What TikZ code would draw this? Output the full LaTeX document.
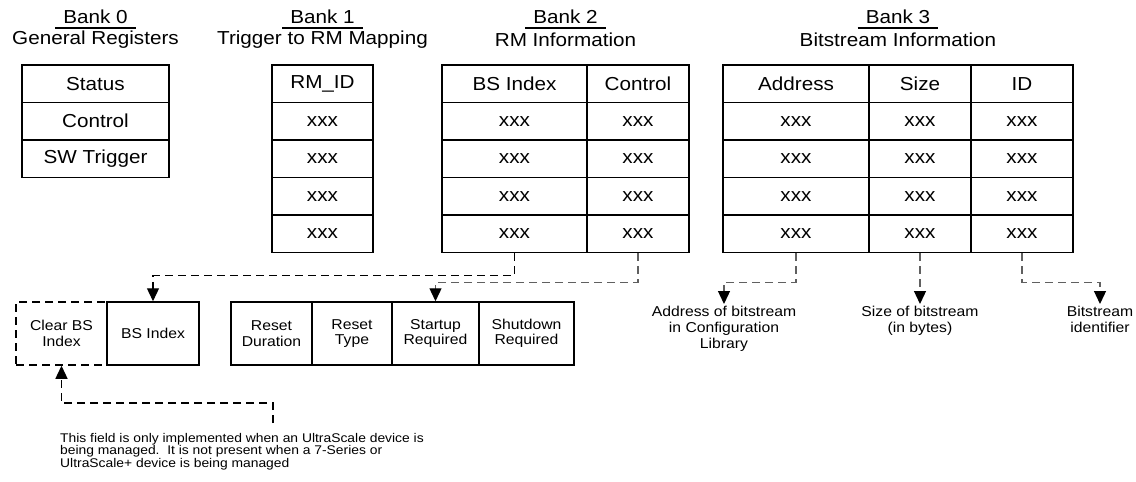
\documentclass[tikz,border=0pt]{standalone}
\usepackage{fontspec}
\setmainfont[FakeStretch=1.1]{Liberation Sans}
\usetikzlibrary{arrows.meta}

\definecolor{linkgray}{RGB}{96,96,96}

\tikzset{
  cell/.style={draw, line width=1.5pt, minimum height=37.5pt, inner sep=0pt,
    font=\fontsize{18.8}{20}\selectfont},
  fieldbox/.style={draw, line width=1.5pt, minimum height=63pt, inner sep=0pt,
    align=center, font=\fontsize{14.3}{15.5}\selectfont},
  banktitle/.style={inner xsep=8pt, inner ysep=4pt, font=\fontsize{18.8}{20}\selectfont},
  banksub/.style={inner sep=0pt, font=\fontsize{18.8}{20}\selectfont},
  lbl/.style={align=center, inner sep=2pt, font=\fontsize{14.3}{16}\selectfont},
  footnote/.style={align=left, inner sep=0pt, font=\fontsize{12.6}{12.5}\selectfont},
  link/.style={dash pattern=on 8pt off 5pt, line width=1.3pt},
}

\begin{document}
\begin{tikzpicture}[x=1pt, y=-1pt, >={Triangle[width=12pt,length=13pt,color=black]}]
  \useasboundingbox (0,0) rectangle (1136,482);

  % bank headings
  \foreach \x/\n/\t in {95.5/0/General Registers, 322.5/1/Trigger to RM Mapping,
                        565.5/2/RM Information, 898/3/Bitstream Information} {
    \node[banktitle] (bank\n) at (\x, 17) {Bank \n};
    \draw[line width=2pt] (bank\n.south west) -- (bank\n.south east);
    \node[banksub] (banksub\n) at (\x, 40) {\t};
  }

  % bank 0
  \foreach \t [count=\r] in {Status, Control, SW Trigger}
    \node[cell, minimum width=147pt] (b0-\r) at (95.5, 46.25+37.5*\r) {\t};

  % bank 1
  \foreach \t [count=\r] in {RM\_ID, xxx, xxx, xxx, xxx}
    \node[cell, minimum width=101pt] (b1-\r) at (322.5, 46.25+37.5*\r) {\t};

  % bank 2
  \foreach \x/\w/\h [count=\c] in {514.5/145/BS Index, 638/102/Control} {
    \node[cell, minimum width=\w pt] (b2c\c-1) at (\x, 83.75) {\h};
    \foreach \r in {2,...,5}
      \node[cell, minimum width=\w pt] (b2c\c-\r) at (\x, 46.25+37.5*\r) {xxx};
  }

  % bank 3
  \foreach \x/\w/\h [count=\c] in {796/146/Address, 920/102/Size, 1022/102/ID} {
    \node[cell, minimum width=\w pt] (b3c\c-1) at (\x, 83.75) {\h};
    \foreach \r in {2,...,5}
      \node[cell, minimum width=\w pt] (b3c\c-\r) at (\x, 46.25+37.5*\r) {xxx};
  }

  % BS index fields
  \node[fieldbox, dash pattern=on 8pt off 5pt, minimum width=91pt] (clrbs) at (61.5, 333.5) {Clear BS\\Index};
  \node[fieldbox, minimum width=92pt] (bsidx) at (153, 333.5) {BS Index};

  % control fields
  \foreach \x/\w/\t [count=\c] in {271.5/81/{Reset\\Duration}, 352/80/{Reset\\Type},
                                   435.5/87/{Startup\\Required}, 526.5/95/{Shutdown\\Required}}
    \node[fieldbox, minimum width=\w pt] (fld\c) at (\x, 333.5) {\t};

  % bitstream labels
  \node[lbl, anchor=north] (addrlbl) at (724, 304) {Address of bitstream\\in Configuration\\Library};
  \node[lbl, anchor=north] (sizelbl) at (920, 304) {Size of bitstream\\(in bytes)};
  \node[lbl, anchor=north] (idlbl) at (1100, 304) {Bitstream\\identifier};

  % note
  \node[footnote, anchor=north west] (note) at (60, 433)
    {This field is only implemented when an UltraScale device is\\
     being managed.\ \ It is not present when a 7-Series or\\
     UltraScale+ device is being managed};
  \coordinate (notetip) at (273, 423);

  % connectors
  \draw[link, ->] (b2c1-5.south) -- ++(0,22) -| (bsidx.north);
  \draw[link, linkgray, ->] (b2c2-5.south) -- ++(0,29) -| (fld3.north);
  \draw[link, linkgray, ->] (b3c1-5.south) -- ++(0,29) -| (addrlbl.north);
  \draw[link, linkgray, ->] (b3c2-5.south) -- (sizelbl.north);
  \draw[link, linkgray, ->] (b3c3-5.south) -- ++(0,29) -| (idlbl.north);
  \draw[link, ->] (notetip) -- ++(0,-20) -| (clrbs.south);
\end{tikzpicture}
\end{document}
